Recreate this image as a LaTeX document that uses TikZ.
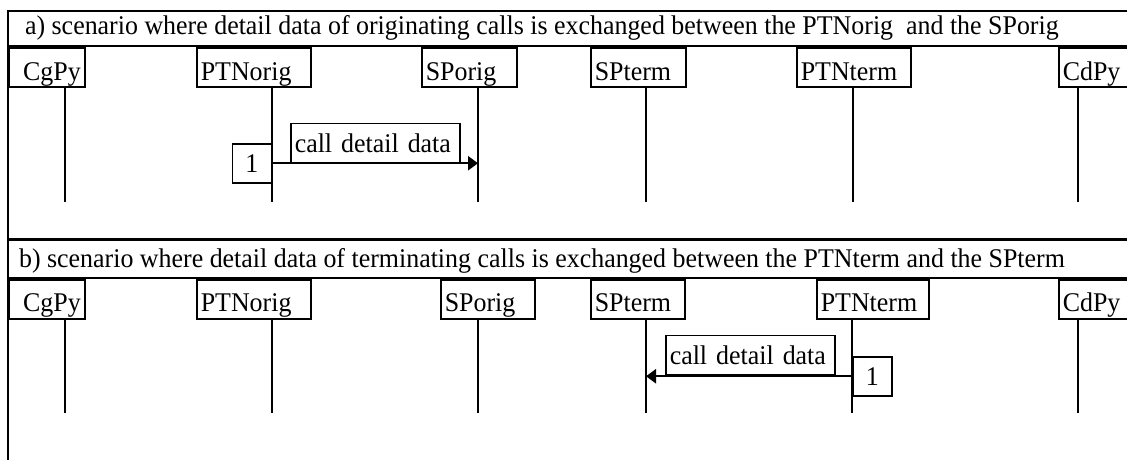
\documentclass[tikz,border=0pt]{standalone}
\usepackage{fontspec}
\setmainfont{Liberation Serif}[FakeStretch=0.96]
\usetikzlibrary{arrows.meta, positioning}

\begin{document}
\begin{tikzpicture}[
    x=0.5pt, y=-0.5pt,
    font=\fontsize{13.5pt}{16pt}\selectfont,
    frame/.style={line width=0.9pt},
    head/.style={rectangle, draw, line width=0.75pt, inner xsep=2pt, inner ysep=0pt, text height=16pt, text depth=3.5pt, align=left, anchor=north west},
    msg/.style={rectangle, draw, line width=0.75pt, inner xsep=2pt, inner ysep=0pt, text height=14.5pt, text depth=5pt, align=left},
    lifeline/.style={line width=0.65pt},
    arrow/.style={line width=1.2pt, -{Triangle[length=5pt, width=7pt]}}
]
    \clip (0,0) rectangle (1127,460);

    % Panel a
    \draw [frame] (1127,11) -- (8,11) -- (8,239) -- (1127,239);
    \draw [frame] (8,46) -- (1127,46);
    \node (titleA) [anchor=base west] at (18,35) {a) scenario where detail data of originating calls is exchanged between the PTNorig~ and the SPorig};

    \node (cgA) [head, text width=34pt, align=right] at (8,47.5) {CgPy};
    \node (ptnoA) [head, text width=53pt] at (196,47.5) {PTNorig};
    \node (spoA) [head, text width=43.5pt] at (421,47.5) {SPorig};
    \node (sptA) [head, text width=43.5pt] at (590,47.5) {SPterm};
    \node (ptntA) [head, text width=53pt] at (796,47.5) {PTNterm};
    \node (cdA) [head, text width=41pt] at (1058,47.5) {CdPy};

    % Lifelines a
    \coordinate (cgAend) at (65,202);
    \coordinate (ptnoAend) at (272,202);
    \coordinate (spoAend) at (478,202);
    \coordinate (sptAend) at (646,202);
    \coordinate (ptntAend) at (853,202);
    \coordinate (cdAend) at (1078,202);
    \draw [lifeline] (cgA.south -| cgAend) -- (cgAend);
    \draw [lifeline] (ptnoA.south -| ptnoAend) -- (ptnoAend);
    \draw [lifeline] (spoA.south -| spoAend) -- (spoAend);
    \draw [lifeline] (sptA.south -| sptAend) -- (sptAend);
    \draw [lifeline] (ptntA.south -| ptntAend) -- (ptntAend);
    \draw [lifeline] (cdA.south -| cdAend) -- (cdAend);

    % Message a
    \node (numA) [msg, text width=15.5pt, align=center, anchor=north east] at (272,143) {1};
    \node (lblA) [msg, text width=80.5pt, anchor=south west] at (290,163) {call detail data};
    \draw [arrow] (numA.east) -- (numA.east -| spoAend);

    % Panel b
    \draw [frame] (1127,240) -- (8,240) -- (8,460);
    \draw [frame] (8,278) -- (1127,278);
    \node (titleB) [anchor=base west] at (12,267) {b) scenario where detail data of terminating calls is exchanged between the PTNterm and the SPterm};

    \node (cgB) [head, text width=34pt, align=right] at (8,279) {CgPy};
    \node (ptnoB) [head, text width=53pt] at (196,279) {PTNorig};
    \node (spoB) [head, text width=43pt] at (440,279) {SPorig};
    \node (sptB) [head, text width=43pt] at (590,279) {SPterm};
    \node (ptntB) [head, text width=52pt] at (816,279) {PTNterm};
    \node (cdB) [head, text width=41pt] at (1058,279) {CdPy};

    % Lifelines b
    \coordinate (cgBend) at (65,413);
    \coordinate (ptnoBend) at (272,413);
    \coordinate (spoBend) at (478,413);
    \coordinate (sptBend) at (646,413);
    \coordinate (ptntBend) at (852,413);
    \coordinate (cdBend) at (1078,413);
    \draw [lifeline] (cgB.south -| cgBend) -- (cgBend);
    \draw [lifeline] (ptnoB.south -| ptnoBend) -- (ptnoBend);
    \draw [lifeline] (spoB.south -| spoBend) -- (spoBend);
    \draw [lifeline] (sptB.south -| sptBend) -- (sptBend);
    \draw [lifeline] (ptntB.south -| ptntBend) -- (ptntBend);
    \draw [lifeline] (cdB.south -| cdBend) -- (cdBend);

    % Message b
    \node (numB) [msg, text width=15.5pt, align=center, anchor=north west] at (852,356) {1};
    \node (lblB) [msg, text width=80.5pt, anchor=south west] at (665,375) {call detail data};
    \draw [arrow] (numB.west) -- (numB.west -| sptBend);
\end{tikzpicture}
\end{document}
